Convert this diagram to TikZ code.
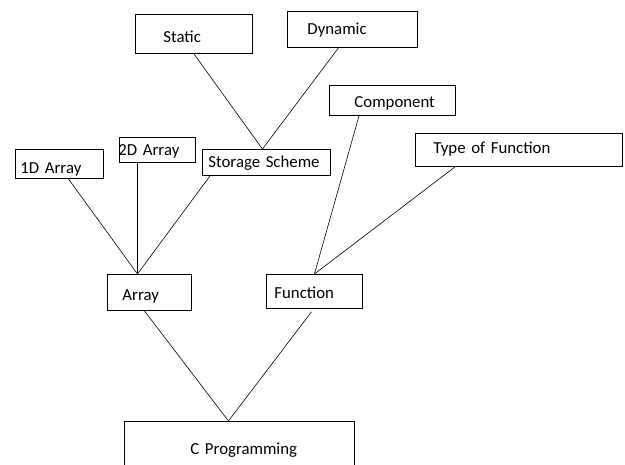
\documentclass[tikz,border=0pt]{standalone}
\usepackage{fontspec}
\setmainfont{Carlito}

\begin{document}
\begin{tikzpicture}[x=1pt, y=-1pt,
    box/.style={draw, line width=0.9pt, anchor=north west, inner sep=0pt,
      align=left, font=\fontsize{16.8}{20}\selectfont, text depth=4pt},
    lpad/.style={execute at begin node={\hspace*{#1pt}}},
    base/.style={text height=#1pt},
    link/.style={line width=0.6pt}]
  \clip (0,0) rectangle (625,465);

  \node[box, text width=117pt, minimum height=39pt, lpad=28, base=21] (static) at (135,14) {Static};
  \node[box, text width=130pt, minimum height=36pt, lpad=20, base=14] (dynamic) at (287,11) {Dynamic};
  \node[box, text width=126pt, minimum height=30pt, lpad=25, base=18] (component) at (329,85) {Component};
  \node[box, text width=207pt, minimum height=33pt, lpad=18, base=11] (typefn) at (415,133) {Type of Function};
  \node[box, text width=88pt, minimum height=29pt, lpad=5, base=23] (onedim) at (15,149) {1D Array};
  \node[box, text width=76pt, minimum height=25pt, lpad=-1, base=15] (twodim) at (119,137) {2D Array};
  \node[box, text width=128pt, minimum height=26pt, lpad=6, base=14] (storage) at (202,149) {Storage Scheme};
  \node[box, text width=84pt, minimum height=36pt, lpad=15, base=20] (array) at (107,274) {Array};
  \node[box, text width=96pt, minimum height=34pt, lpad=8, base=18] (function) at (266,274) {Function};
  \node[box, text width=230pt, minimum height=50pt, lpad=66, base=20] (cprog) at (124,421) {C Programming};

  \draw[link] (static.south) -- ([xshift=-4pt]storage.north);
  \draw[link] ([xshift=-14pt]dynamic.south) -- ([xshift=-4pt]storage.north);
  \draw[link] ([xshift=9pt]onedim.south) -- ([xshift=-12pt]array.north);
  \draw[link] ([xshift=-20pt]twodim.south) -- ([xshift=-12pt]array.north);
  \draw[link] ([xshift=8pt]storage.south west) -- ([xshift=-12pt]array.north);
  \draw[link] ([xshift=30pt]component.south west) -- (function.north);
  \draw[link] ([xshift=40pt]typefn.south west) -- (function.north);
  \draw[link] ([xshift=-5pt]array.south) -- ([xshift=-11pt]cprog.north);
  \draw[link] ([xshift=-3pt,yshift=-3pt]function.south) -- ([xshift=-11pt]cprog.north);
\end{tikzpicture}
\end{document}
